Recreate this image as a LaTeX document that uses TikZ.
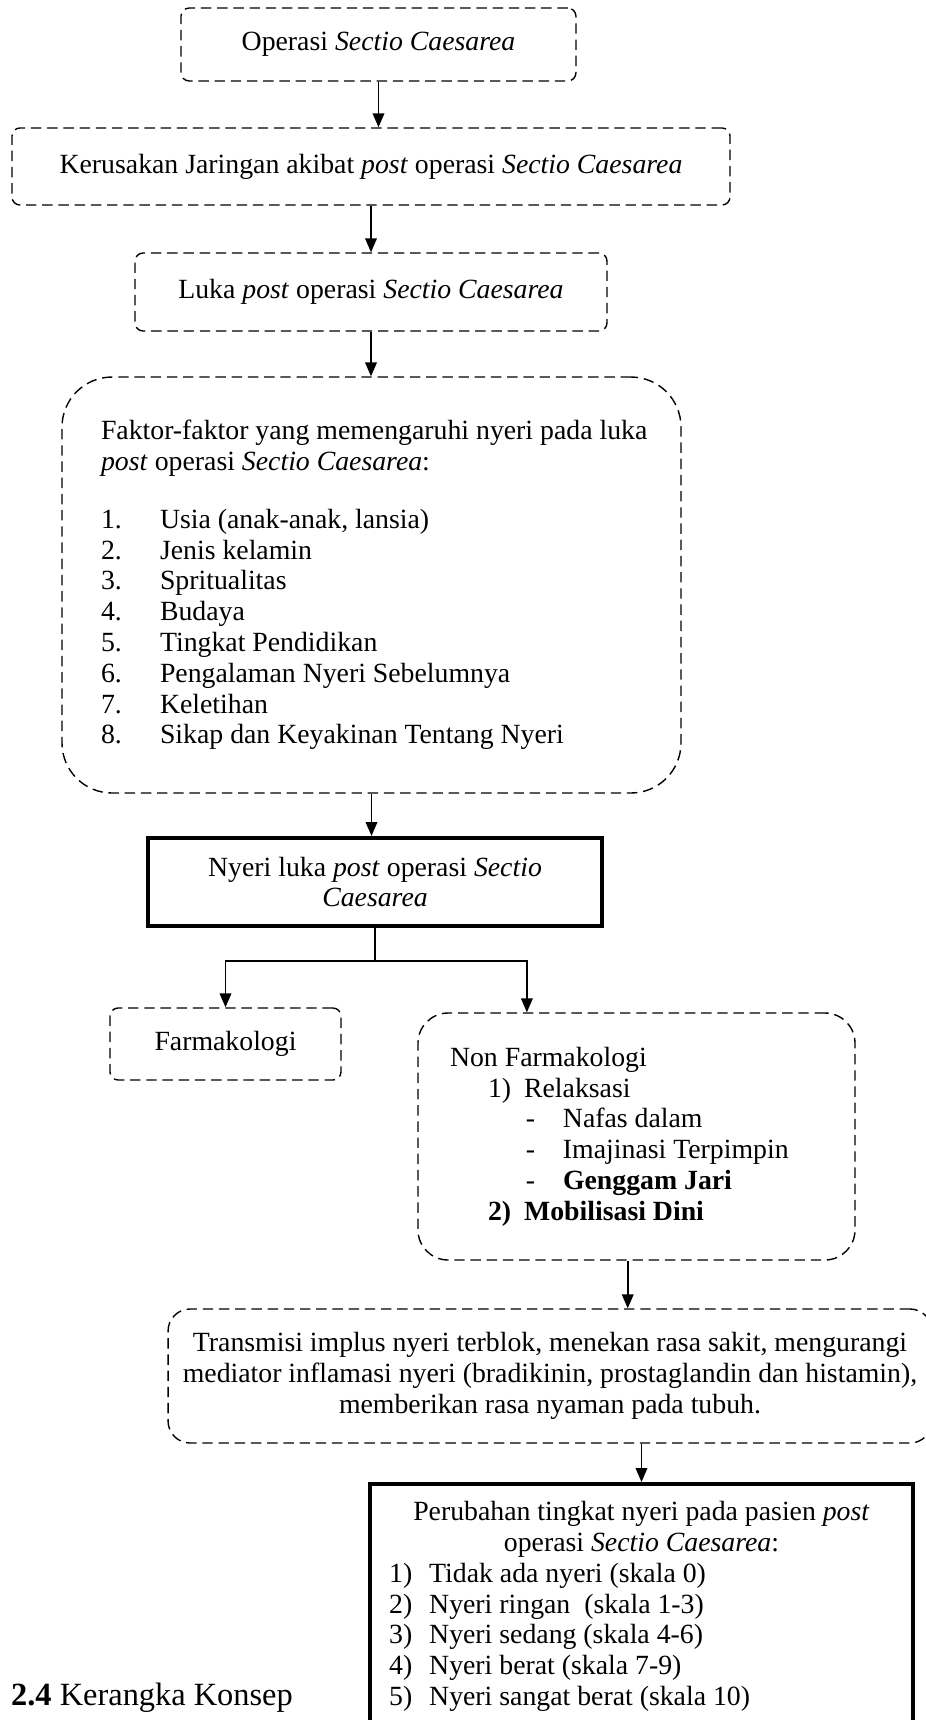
\documentclass[tikz,border=0pt]{standalone}
\usepackage{fontspec}
\setmainfont{Liberation Serif}
\usetikzlibrary{arrows.meta,calc}

\begin{document}
\begin{tikzpicture}[x=0.432pt,y=-0.432pt,
  txt/.style={font=\fontsize{12}{13.3}\selectfont},
  dbox/.style={draw,dash pattern=on 4.5pt off 2.5pt,line width=0.6pt,rounded corners=3.5pt,align=center,txt},
  sbox/.style={draw,line width=1.8pt,align=center,txt},
  arr/.style={-{Triangle[length=6pt,width=5pt]},line width=0.7pt}]
\path[use as bounding box,clip] (0,0) rectangle (926,1720);
\node[dbox,minimum width=170.6pt,minimum height=31.5pt] (op) at (378.5,44.5){Operasi \textit{Sectio Caesarea}};
\node[dbox,minimum width=310.2pt,minimum height=33.3pt] (ker) at (371,166.5){Kerusakan Jaringan akibat \textit{post} operasi \textit{Sectio Caesarea}};
\node[dbox,minimum width=203.9pt,minimum height=33.7pt] (luka) at (371,292){Luka \textit{post} operasi \textit{Sectio Caesarea}};
\node[dbox,rounded corners=21.6pt,minimum width=267.4pt,minimum height=179.7pt,align=left] (faktor) at (371.5,585){\makebox[233.7pt][l]{Faktor-faktor yang memengaruhi nyeri pada luka}\\
\textit{post} operasi \textit{Sectio Caesarea}:\\[11.7pt]
\makebox[25.5pt][l]{1.}Usia (anak-anak, lansia)\\
\makebox[25.5pt][l]{2.}Jenis kelamin\\
\makebox[25.5pt][l]{3.}Spritualitas\\
\makebox[25.5pt][l]{4.}Budaya\\
\makebox[25.5pt][l]{5.}Tingkat Pendidikan\\
\makebox[25.5pt][l]{6.}Pengalaman Nyeri Sebelumnya\\
\makebox[25.5pt][l]{7.}Keletihan\\
\makebox[25.5pt][l]{8.}Sikap dan Keyakinan Tentang Nyeri};
\node[sbox,minimum width=196.1pt,minimum height=38pt] (nyeri) at (375,882){Nyeri luka \textit{post} operasi \textit{Sectio}\\\textit{Caesarea}};
\node[dbox,minimum width=99.8pt,minimum height=31.1pt] (farm) at (225.5,1044){Farmakologi};
\node[dbox,rounded corners=13pt,minimum width=188.8pt,minimum height=106.7pt,align=left] (nf) at (636.5,1136.5){\makebox[161.1pt][l]{Non Farmakologi}\\
\hspace*{16.4pt}\makebox[15.6pt][l]{1)}Relaksasi\\
\hspace*{32.8pt}\makebox[16pt][l]{-}Nafas dalam\\
\hspace*{32.8pt}\makebox[16pt][l]{-}Imajinasi Terpimpin\\
\hspace*{32.8pt}\makebox[16pt][l]{-}\textbf{Genggam Jari}\\
\hspace*{16.4pt}\makebox[15.6pt][l]{\textbf{2)}}\textbf{Mobilisasi Dini}};
\node[dbox,rounded corners=9.5pt,minimum width=330pt,minimum height=57.9pt] (tr) at (550,1376){Transmisi implus nyeri terblok, menekan rasa sakit, mengurangi\\
mediator inflamasi nyeri (bradikinin, prostaglandin dan histamin),\\
memberikan rasa nyaman pada tubuh.};
\node[sbox,anchor=north,minimum width=234.6pt,inner ysep=7.5pt] (per) at (641.5,1482){Perubahan tingkat nyeri pada pasien \textit{post}\\
operasi \textit{Sectio Caesarea}:\\
\makebox[218pt][l]{\makebox[17.3pt][l]{1)}Tidak ada nyeri (skala 0)}\\
\makebox[218pt][l]{\makebox[17.3pt][l]{2)}Nyeri ringan\ \ (skala 1-3)}\\
\makebox[218pt][l]{\makebox[17.3pt][l]{3)}Nyeri sedang (skala 4-6)}\\
\makebox[218pt][l]{\makebox[17.3pt][l]{4)}Nyeri berat (skala 7-9)}\\
\makebox[218pt][l]{\makebox[17.3pt][l]{5)}Nyeri sangat berat (skala 10)}\\
\rule{0pt}{60pt}};
\node[anchor=base west,font=\fontsize{14}{16}\selectfont] (judul) at (3,1705){\textbf{2.4} Kerangka Konsep};
\draw[arr] (op.south) -- (op.south |- ker.north);
\draw[arr] (ker.south) -- (ker.south |- luka.north);
\draw[arr] (luka.south) -- (luka.south |- faktor.north);
\draw[arr] (faktor.south) -- (faktor.south |- nyeri.north);
\coordinate (split) at (375,961);
\draw[line width=0.7pt] (nyeri.south) -- (split);
\draw[arr] (split) -| (farm.north);
\draw[arr] (split) -| ($(nf.north west)!.25!(nf.north east)$);
\coordinate (nfout) at ($(nf.south west)!.48!(nf.south east)$);
\draw[arr] (nfout) -- (nfout |- tr.north);
\draw[arr] (per.north |- tr.south) -- (per.north);
\end{tikzpicture}
\end{document}
